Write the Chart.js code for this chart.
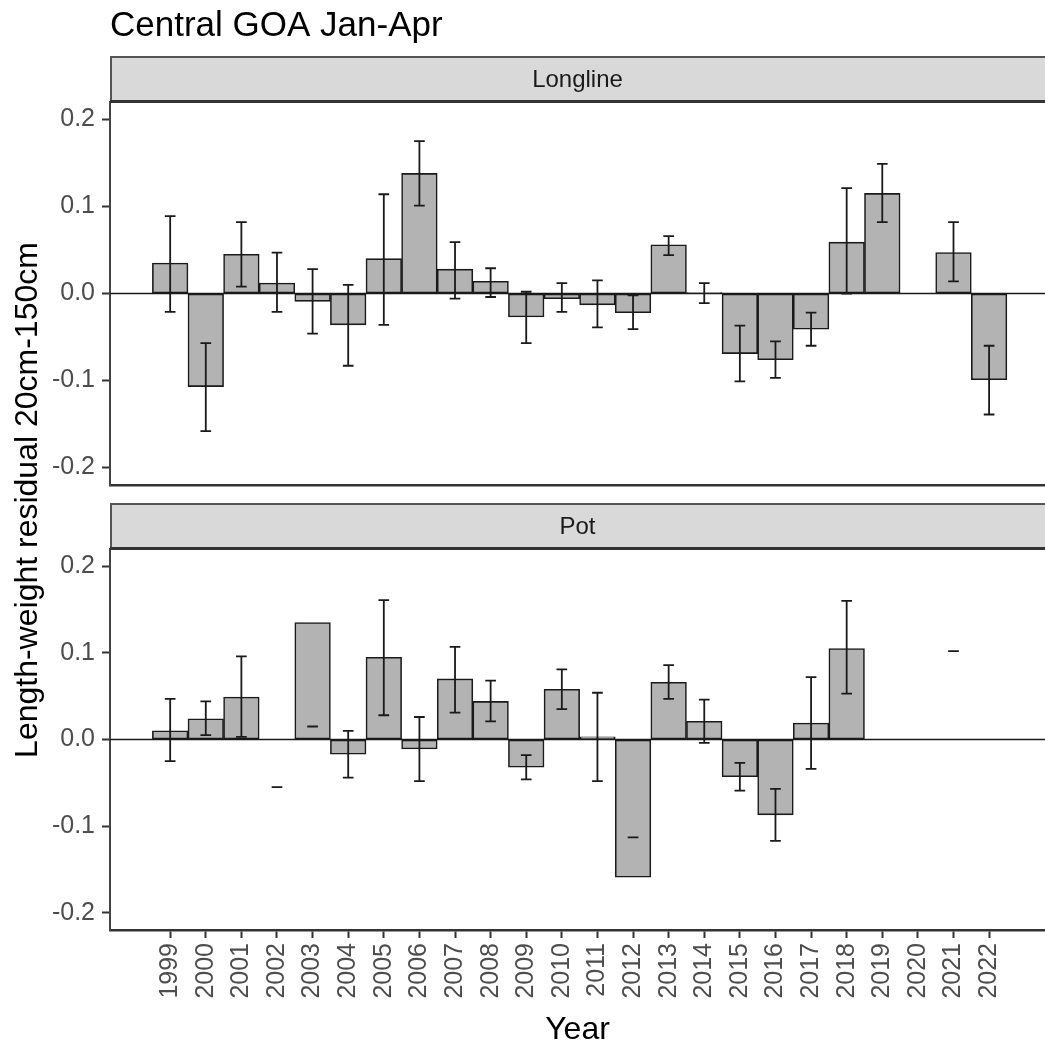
<!DOCTYPE html>
<html>
<head>
<meta charset="utf-8">
<script src="https://cdn.jsdelivr.net/npm/chart.js@4.4.1/dist/chart.umd.min.js"></script>
<style>
html,body{margin:0;padding:0;background:#fff;}
#wrap{position:relative;width:1045px;height:1053px;overflow:hidden;background:#fff;}
canvas{position:absolute;left:0;}
</style>
</head>
<body>
<div id="wrap">
<canvas id="cTop" width="1045" height="1053" style="top:0px"></canvas>
<canvas id="cBot" width="1045" height="561" style="top:492px"></canvas>
</div>
<script>
// ---------- data ----------
const years = [1999,2000,2001,2002,2003,2004,2005,2006,2007,2008,2009,2010,2011,2012,2013,2014,2015,2016,2017,2018,2019,2020,2021,2022];

const longlineValue = [0.035,-0.107,0.045,0.012,-0.009,-0.036,0.040,0.138,0.028,0.014,-0.027,-0.006,-0.013,-0.022,0.056,0.001,-0.069,-0.076,-0.041,0.059,0.115,null,0.047,-0.099];
const longlineLower = [-0.021,-0.158,0.008,-0.021,-0.046,-0.083,-0.036,0.101,-0.006,-0.004,-0.057,-0.021,-0.039,-0.041,0.044,-0.011,-0.101,-0.097,-0.060,0.000,0.082,null,0.014,-0.139];
const longlineUpper = [0.089,-0.057,0.082,0.047,0.028,0.010,0.114,0.175,0.059,0.029,0.002,0.012,0.015,-0.002,0.066,0.012,-0.037,-0.055,-0.022,0.121,0.149,null,0.082,-0.060];

const potValue = [0.010,0.024,0.049,null,0.135,-0.017,0.095,-0.011,0.070,0.044,-0.032,0.058,0.003,-0.159,0.066,0.021,-0.043,-0.087,0.019,0.105,null,null,null,null];
const potLower = [-0.025,0.005,0.003,-0.055,0.015,-0.044,0.028,-0.048,0.031,0.021,-0.046,0.035,-0.048,-0.113,0.047,-0.004,-0.059,-0.117,-0.034,0.053,null,null,0.102,null];
const potUpper = [0.047,0.044,0.096,-0.055,0.015,0.010,0.161,0.026,0.107,0.068,-0.018,0.081,0.054,-0.113,0.086,0.046,-0.027,-0.057,0.072,0.160,null,null,0.102,null];

const yTicks = [-0.2,-0.1,0.0,0.1,0.2];
const panelLabels = ['Longline','Pot'];
const titleText = 'Central GOA Jan-Apr';
const yTitle = 'Length-weight residual 20cm-150cm';
const xTitle = 'Year';

// ---------- style ----------
const FONT = "'Liberation Sans', Arial, Helvetica, sans-serif";
const TICK_SIZE = 25, STRIP_SIZE = 24, AXIS_TITLE_SIZE = 32, TITLE_SIZE = 35;
const X_MIN = 1997.31, X_MAX = 2023.57, Y_MIN = -0.22, Y_MAX = 0.22;
const ERR_HALF = 0.15;

function errorPlugin(lower, upper) {
  return {
    id: 'errs',
    afterDatasetsDraw(chart) {
      const {ctx, chartArea: a, scales: {x, y}} = chart;
      ctx.save();
      ctx.beginPath(); ctx.rect(a.left, a.top, a.right - a.left, a.bottom - a.top); ctx.clip();
      const y0 = y.getPixelForValue(0);
      ctx.strokeStyle = '#1a1a1a'; ctx.lineWidth = 1.6;
      ctx.beginPath(); ctx.moveTo(a.left, y0); ctx.lineTo(a.right, y0); ctx.stroke();
      ctx.lineWidth = 1.8; ctx.strokeStyle = '#1a1a1a';
      years.forEach((yr, i) => {
        if (lower[i] == null || upper[i] == null) return;
        const px = x.getPixelForValue(yr);
        const pl = y.getPixelForValue(lower[i]);
        const pu = y.getPixelForValue(upper[i]);
        const xl = x.getPixelForValue(yr - ERR_HALF), xr = x.getPixelForValue(yr + ERR_HALF);
        ctx.beginPath();
        ctx.moveTo(px, pu); ctx.lineTo(px, pl);
        ctx.moveTo(xl, pu); ctx.lineTo(xr, pu);
        ctx.moveTo(xl, pl); ctx.lineTo(xr, pl);
        ctx.stroke();
      });
      ctx.restore();
    }
  };
}

function stripPlugin(label, withTitle, withXTitle, withYTitle) {
  return {
    id: 'strip',
    afterDraw(chart) {
      const {ctx, chartArea: a} = chart;
      ctx.save();
      const sTop = a.top - 46, sBot = a.top;
      ctx.fillStyle = '#D9D9D9';
      ctx.fillRect(a.left, sTop, a.right - a.left, sBot - sTop);
      ctx.strokeStyle = '#555555'; ctx.lineWidth = 2;
      ctx.beginPath(); ctx.moveTo(a.left, sTop + 1); ctx.lineTo(a.right, sTop + 1); ctx.stroke();
      ctx.beginPath(); ctx.moveTo(a.left + 1, sTop); ctx.lineTo(a.left + 1, sBot); ctx.stroke();
      ctx.strokeStyle = '#333333'; ctx.lineWidth = 3;
      ctx.beginPath(); ctx.moveTo(a.left, sBot - 0.5); ctx.lineTo(a.right, sBot - 0.5); ctx.stroke();
      ctx.fillStyle = '#1A1A1A';
      ctx.font = STRIP_SIZE + 'px ' + FONT;
      ctx.textAlign = 'center'; ctx.textBaseline = 'middle';
      ctx.fillText(label, (a.left + a.right) / 2, (sTop + sBot) / 2 + 1);
      if (withTitle) {
        ctx.fillStyle = '#000000';
        ctx.font = TITLE_SIZE + 'px ' + FONT;
        ctx.textAlign = 'left'; ctx.textBaseline = 'alphabetic';
        ctx.fillText(titleText, a.left, 36);
      }
      if (withYTitle) {
        ctx.save();
        ctx.translate(37, 500);
        ctx.rotate(-Math.PI / 2);
        ctx.fillStyle = '#000000';
        ctx.font = AXIS_TITLE_SIZE + 'px ' + FONT;
        ctx.textAlign = 'center'; ctx.textBaseline = 'alphabetic';
        ctx.fillText(yTitle, 0, 0);
        ctx.restore();
      }
      if (withXTitle) {
        ctx.fillStyle = '#000000';
        ctx.font = AXIS_TITLE_SIZE + 'px ' + FONT;
        ctx.textAlign = 'center'; ctx.textBaseline = 'alphabetic';
        ctx.fillText(xTitle, (a.left + a.right) / 2, 1039 - 492);
      }
      ctx.restore();
    }
  };
}

function yScale() {
  return {
    type: 'linear', min: Y_MIN, max: Y_MAX,
    afterBuildTicks: s => { s.ticks = yTicks.map(v => ({value: v})); },
    afterFit: s => { s.width = 110; },
    ticks: {
      callback: v => Number(v).toFixed(1),
      color: '#4D4D4D', font: {family: FONT, size: TICK_SIZE}, padding: 7
    },
    grid: {display: true, drawOnChartArea: false, drawTicks: true, tickLength: 8, tickWidth: 2, tickColor: '#333333'},
    border: {display: true, color: '#444444', width: 2}
  };
}

function makeChart(id, values, lower, upper, label, isBottom) {
  const data = years.map((yr, i) => ({x: yr, y: values[i]}));
  const xScale = isBottom ? {
    type: 'linear', min: X_MIN, max: X_MAX, offset: false,
    afterBuildTicks: s => { s.ticks = years.map(v => ({value: v})); },
    afterFit: s => { s.height = 123; },
    ticks: {
      autoSkip: false, minRotation: 90, maxRotation: 90,
      callback: v => String(v),
      color: '#4D4D4D', font: {family: FONT, size: TICK_SIZE}, padding: 5
    },
    grid: {display: true, drawOnChartArea: false, drawTicks: true, tickLength: 8, tickWidth: 2, tickColor: '#333333', offset: false},
    border: {display: true, color: '#333333', width: 2.5}
  } : {
    type: 'linear', min: X_MIN, max: X_MAX, offset: false,
    afterFit: s => { s.height = 7; },
    ticks: {display: false},
    grid: {display: false, offset: false},
    border: {display: true, color: '#333333', width: 2.5}
  };
  return new Chart(document.getElementById(id), {
    type: 'bar',
    data: {
      datasets: [{
        label: label,
        data: data,
        backgroundColor: '#B3B3B3',
        borderColor: '#1a1a1a',
        borderWidth: 1.6,
        borderSkipped: false,
        barPercentage: 1.0,
        categoryPercentage: 1.0
      }]
    },
    options: {
      responsive: false,
      animation: false,
      events: [],
      layout: {padding: {top: isBottom ? 57 : 102, right: 0, bottom: isBottom ? 0 : 561, left: 0}},
      plugins: {legend: {display: false}, tooltip: {enabled: false}, title: {display: false}},
      scales: {x: xScale, y: yScale()}
    },
    plugins: [errorPlugin(lower, upper), stripPlugin(label, !isBottom, isBottom, !isBottom)]
  });
}

makeChart('cTop', longlineValue, longlineLower, longlineUpper, panelLabels[0], false);
makeChart('cBot', potValue, potLower, potUpper, panelLabels[1], true);
</script>
</body>
</html>
